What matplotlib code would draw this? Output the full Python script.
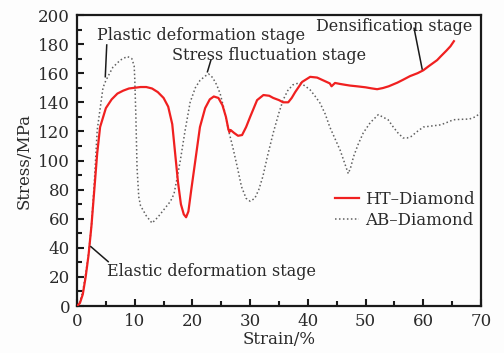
import matplotlib
matplotlib.use("Agg")
import matplotlib.pyplot as plt
from matplotlib.ticker import MultipleLocator

plt.rcParams['font.family'] = ['DejaVu Serif']

# HT-Diamond (solid red)
ht_strain = [0, 0.5, 1, 1.5, 2, 2.5, 3, 3.5, 4, 5, 6, 7, 8, 9, 10, 11, 12, 13, 14, 15,
             15.8, 16.5, 17, 17.5, 18, 18.5, 18.9, 19.3, 19.8, 20.5, 21.3, 22.2, 23, 23.7,
             24.5, 25.2, 25.8, 26.2, 26.4, 26.6, 27.2, 27.9, 28.6, 29.3, 30, 31.2, 32.3,
             33.3, 34, 35, 35.7, 36.6, 37.2, 37.8, 39, 40.4, 41.6, 42.7, 43.8, 44.1, 44.7,
             45.6, 46.5, 47.3, 48.5, 50, 51, 52, 53, 54, 55.5, 56.5, 57.7, 59, 60, 61, 62.4,
             63, 64, 64.7, 65.3]
ht_stress = [0, 2, 8, 20, 35, 55, 80, 105, 123, 136, 142, 146, 148, 149.5, 150, 150.5,
             150.5, 149.5, 147, 143, 137, 125, 105, 85, 70, 63, 61, 65, 80, 100, 123, 136,
             142, 144, 143, 138, 130, 122, 119.5, 121, 119, 117, 117.5, 123, 130, 141.5,
             145, 144.5, 143, 141.5, 140, 140, 143, 147, 154, 157.5, 157, 155, 153, 151,
             153.3, 152.6, 152, 151.5, 151, 150.3, 149.6, 149, 149.8, 151, 153.5, 155.5,
             158, 160, 162, 165, 169, 171.5, 175.5, 178.5, 182]

# AB-Diamond (dotted grey)
ab_strain = [0, 0.5, 1, 1.5, 2, 2.5, 3, 3.5, 4.5, 5, 6.2, 7.5, 8.7, 9.5, 9.9, 10, 10.2,
             10.4, 10.7, 11, 12, 13, 14, 15, 16.2, 16.8, 17.3, 17.9, 18.7, 19.6, 20.5,
             21.3, 22.2, 22.8, 23.5, 24.2, 24.8, 25.5, 26.3, 27, 27.8, 28.5, 29.3, 30,
             30.8, 31.5, 32.2, 33, 34, 35, 35.7, 36.5, 37.4, 38.6, 39.6, 40.4, 41.2,
             42.1, 43, 43.8, 44.7, 45.6, 46.3, 47, 47.4, 47.9, 48.7, 49.6, 50.8, 52.2, 53.9,
             54.8, 55.6, 56.5, 57.2, 57.9, 58.8, 60, 61, 63, 64, 65.2, 66.5, 68, 69,
             69.8, 70]
ab_stress = [0, 3, 10, 22, 36, 55, 85, 121, 150, 155, 164, 169, 171.5, 170, 165, 157,
             130, 95, 75, 69, 62, 57, 61, 66, 72, 77, 87, 100, 120, 140, 150, 155, 158,
             159.5, 157, 152, 146, 135, 120, 109, 95, 82, 74, 72, 74, 80, 89, 103, 119,
             133, 141.5, 148, 152, 153.5, 151, 148.5, 144.5, 139.5, 132, 123, 115, 107,
             99, 91, 95, 102.5, 111, 119, 126, 131.5, 128, 123, 119, 115.5, 115.5,
             116.5, 119.5, 123, 123.5, 124.5, 126, 128, 128.3, 128.5, 130, 132.3, 133]

series_labels = ["HT\u2013Diamond", "AB\u2013Diamond"]

# Stage annotations
stage_labels = ["Plastic deformation stage", "Stress fluctuation stage",
                "Densification stage", "Elastic deformation stage"]
stage_text_xy = [(3.5, 186.2), (16.5, 172.5), (41.4, 192.4), (5.2, 23.4)]
stage_lines = [((5.15, 179.4), (4.9, 157.6)), ((23.2, 169), (22.6, 161)),
               ((58.4, 190.9), (59.8, 162.9)), ((5.4, 30.5), (2.4, 40.8))]

txt_color = '#2a2a2a'
fig = plt.figure(figsize=(5.04, 3.53), dpi=100, facecolor='#fdfdfd')
ax = fig.add_axes([0.1528, 0.1331, 0.8016, 0.8244])
ax.set_facecolor('#fdfdfd')

ax.plot(ht_strain, ht_stress, color='#f02020', lw=1.6, label=series_labels[0], zorder=3)
ax.plot(ab_strain, ab_stress, color='#606060', lw=1.1, ls=(0, (1, 1.6)),
        label=series_labels[1], zorder=2)

for (lab, (tx, ty), (p0, p1)) in zip(stage_labels, stage_text_xy, stage_lines):
    ax.text(tx, ty, lab, fontsize=11.5, color=txt_color, ha='left', va='center', zorder=4)
    ax.plot([p0[0], p1[0]], [p0[1], p1[1]], color='#1a1a1a', lw=1.1, zorder=4)

ax.set_xlim(0, 70)
ax.set_ylim(0, 200)
ax.xaxis.set_major_locator(MultipleLocator(10))
ax.xaxis.set_minor_locator(MultipleLocator(5))
ax.yaxis.set_major_locator(MultipleLocator(20))
ax.yaxis.set_minor_locator(MultipleLocator(10))
ax.tick_params(which='both', direction='in', top=False, right=False, width=1.5,
               colors='#1a1a1a', labelcolor=txt_color, labelsize=12)
ax.tick_params(which='major', length=5)
ax.tick_params(which='minor', length=3.5)
ax.tick_params(axis='y', pad=5)
ax.tick_params(axis='x', pad=5)
for s in ax.spines.values():
    s.set_linewidth(1.6)
    s.set_color('#1a1a1a')

ax.set_xlabel("Strain/%", fontsize=12, color=txt_color, labelpad=1)
ax.set_ylabel("Stress/MPa", fontsize=12, color=txt_color, labelpad=4)

leg = ax.legend(loc='center right', bbox_to_anchor=(0.985, 0.33), frameon=False,
                fontsize=12, handlelength=1.4, handletextpad=0.4, labelspacing=0.25,
                borderpad=0, borderaxespad=0)
for t in leg.get_texts():
    t.set_color(txt_color)

fig.savefig("out.png", dpi=100, facecolor=fig.get_facecolor())
